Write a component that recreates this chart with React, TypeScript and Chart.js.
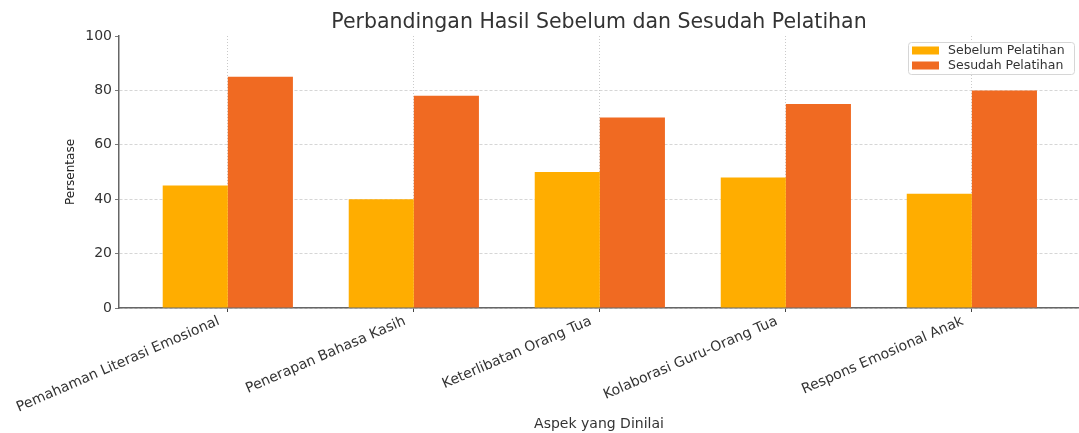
import React, { useEffect, useRef } from "react";
import { Chart, registerables } from "chart.js";

Chart.register(...registerables);

const categories = [
  "Pemahaman Literasi Emosional",
  "Penerapan Bahasa Kasih",
  "Keterlibatan Orang Tua",
  "Kolaborasi Guru-Orang Tua",
  "Respons Emosional Anak",
];
const sebelum = [45, 40, 50, 48, 42];
const sesudah = [85, 78, 70, 75, 80];
const yTicks = [0, 20, 40, 60, 80, 100];
const seriesLabels = ["Sebelum Pelatihan", "Sesudah Pelatihan"];
const seriesColors = ["#FFAD00", "#F06A22"];

const FONT = "'DejaVu Sans', sans-serif";

const boxLegend = {
  id: "boxLegend",
  afterDraw(chart: any) {
    const { ctx } = chart;
    const bx = 908, by = 42, bw = 166, bh = 32;
    ctx.save();
    ctx.beginPath();
    (ctx as any).roundRect(bx + 0.5, by + 0.5, bw, bh, 3);
    ctx.fillStyle = "rgba(255,255,255,0.8)";
    ctx.fill();
    ctx.strokeStyle = "#d6d6d6";
    ctx.lineWidth = 1;
    ctx.stroke();
    ctx.font = `12.5px ${FONT}`;
    ctx.textBaseline = "middle";
    ctx.textAlign = "left";
    chart.data.datasets.forEach((ds: any, i: number) => {
      const cy = by + 8.5 + i * 15;
      ctx.fillStyle = ds.backgroundColor;
      ctx.fillRect(bx + 4, cy - 4, 27, 8);
      ctx.fillStyle = "#333";
      ctx.fillText(ds.label, bx + 40, cy);
    });
    ctx.restore();
  },
};

export default function App() {
  const ref = useRef<HTMLCanvasElement>(null);
  useEffect(() => {
    if (!ref.current) return;
    const chart = new Chart(ref.current, {
      type: "bar",
      data: {
        datasets: [
          {
            label: seriesLabels[0],
            data: sebelum.map((v, i) => ({ x: i, y: v })),
            backgroundColor: seriesColors[0],
            categoryPercentage: 0.7,
            barPercentage: 1,
          },
          {
            label: seriesLabels[1],
            data: sesudah.map((v, i) => ({ x: i, y: v })),
            backgroundColor: seriesColors[1],
            categoryPercentage: 0.7,
            barPercentage: 1,
          },
        ],
      },
      options: {
        animation: false,
        responsive: false,
        layout: { padding: 0 },
        plugins: {
          legend: { display: false },
          tooltip: { enabled: false },
          title: {
            display: true,
            text: "Perbandingan Hasil Sebelum dan Sesudah Pelatihan",
            fullSize: false,
            color: "#333",
            font: { family: FONT, size: 20.5, weight: "normal", lineHeight: 1.2 },
            padding: { top: 10, bottom: 1.4 },
          },
        },
        scales: {
          x: {
            type: "linear",
            offset: false,
            min: -0.585,
            max: 4.576,
            afterBuildTicks: (scale: any) => {
              scale.ticks = categories.map((_, i) => ({ value: i }));
            },
            afterFit: (scale: any) => {
              scale.height = 125;
            },
            ticks: {
              minRotation: 23.5,
              maxRotation: 23.5,
              autoSkip: false,
              padding: 1,
              labelOffset: -9,
              color: "#333",
              font: { family: FONT, size: 14 },
              callback: (value: any) => categories[value as number],
            },
            grid: {
              offset: false,
              color: "rgba(180,180,180,0.7)",
              lineWidth: 1,
              tickColor: "#444",
              tickLength: 4,
            },
            border: { display: true, color: "#666", width: 1.5, dash: [1, 2] },
            title: {
              display: true,
              text: "Aspek yang Dinilai",
              color: "#333",
              font: { family: FONT, size: 14, lineHeight: 1.2 },
              padding: { top: 0, bottom: 0 },
            },
          },
          y: {
            min: 0,
            max: 100,
            afterBuildTicks: (scale: any) => {
              scale.ticks = yTicks.map((v) => ({ value: v }));
            },
            afterFit: (scale: any) => {
              scale.width = 119;
            },
            ticks: {
              padding: 3,
              color: "#333",
              font: { family: FONT, size: 14 },
            },
            grid: {
              color: (c: any) =>
                c.tick && c.tick.value === 100 ? "rgba(0,0,0,0)" : "rgba(190,190,190,0.8)",
              lineWidth: 0.8,
              tickColor: "#555",
              tickLength: 4,
            },
            border: { display: true, color: "#666", width: 1.5, dash: [3, 2] },
            title: {
              display: true,
              text: "Persentase",
              color: "#222",
              font: { family: FONT, size: 12, lineHeight: 1.2 },
              padding: { top: 64, bottom: 0 },
            },
          },
        },
      },
      plugins: [boxLegend],
    });
    return () => chart.destroy();
  }, []);
  return (
    <div style={{ position: "fixed", left: 0, top: 0, width: 1079, height: 433, background: "#fff" }}>
      <canvas ref={ref} width={1079} height={433} style={{ width: 1079, height: 433 }} />
    </div>
  );
}
